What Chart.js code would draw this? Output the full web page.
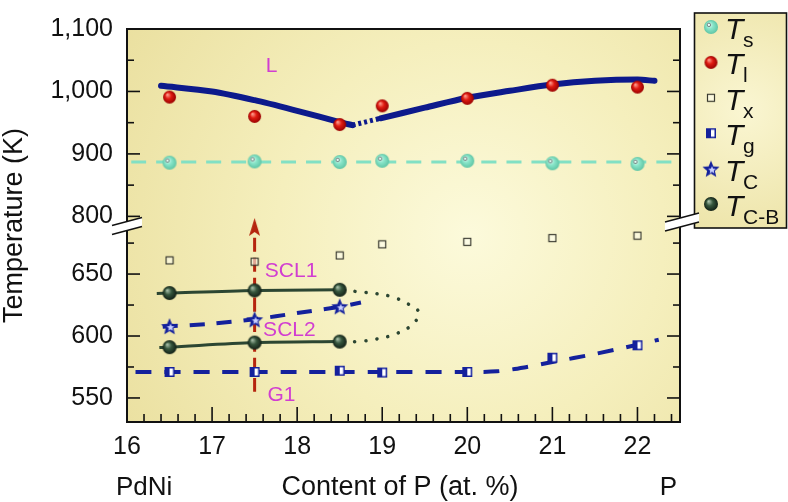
<!DOCTYPE html>
<html>
<head>
<meta charset="utf-8">
<script src="https://cdn.jsdelivr.net/npm/chart.js@4.4.1/dist/chart.umd.min.js"></script>
<style>
  html, body { margin: 0; padding: 0; background: #fff; }
</style>
</head>
<body>
<canvas id="chart" width="788" height="502"></canvas>
<script>
// P content (at. %) of the measured alloys
const comp = [16.5, 17.5, 18.5, 19, 20, 21, 22];
const tS = [886, 888, 887, 889, 889, 885, 884];
const tL = [991, 960, 947, 977, 989, 1010, 1007];
const tX = [661, 660, 665, 674, 676, 679, 681];
const tG = [571, 571, 572, 570.5, 571, 582.5, 592.5];

// only the three alloys with a crossover
const compC = [16.5, 17.5, 18.5];
const tC = [608, 613.5, 624];
const tCBhigh = [634.7, 636.8, 637.3];
const tCBlow = [591, 594.7, 595.5];

// guide curves, [x, T]
const liqLeft = [[16.4, 1009], [17, 1000], [17.5, 986], [18, 969], [18.5, 951], [18.65, 946]];
const liqGap = [[18.65, 946], [18.98, 957]];
const liqRight = [[18.98, 957], [19.5, 974], [20, 990], [20.5, 1001], [21, 1011], [21.5, 1017], [22, 1019], [22.2, 1017]];
const solidusLine = [[16.05, 887], [22.5, 887]];
const glassLine = [[16.1, 571], [17, 571], [18, 571], [19, 571], [20, 571], [20.35, 571.5], [20.7, 575], [21, 579], [21.5, 585.5], [22, 593], [22.25, 597]];
const crossLine = [[16.42, 607.5], [17, 610], [17.5, 613.5], [18, 618.5], [18.5, 623.5], [18.75, 627]];
const cbHighLine = [[16.35, 634.3], [16.5, 634.7], [17.5, 636.8], [18.5, 637.3]];
const cbLowLine = [[16.38, 590.7], [16.5, 591], [17.5, 594.7], [18.5, 595.5]];
const cbNose = [[18.55, 637], [18.75, 635.5], [18.95, 634], [19.12, 631.5], [19.3, 626], [19.43, 619], [19.35, 609], [19.15, 601.5], [18.93, 597.5], [18.72, 595.5], [18.55, 595.5]];
const arrowPath = [[17.5, 555], [17.5, 682]];
const arrowTip = [[17.5, 688]];

// tick labels
const xTicks = [16, 17, 18, 19, 20, 21, 22];
const yTopTicks = [800, 900, 1000, 1100];
const yBotTicks = [550, 600, 650];

const FONT = '"Liberation Sans", Arial, sans-serif';
const navy = '#14219c';

const pts = (xs, ys) => xs.map((x, i) => ({ x: x, y: ys[i] }));
const pairs = arr => arr.map(p => ({ x: p[0], y: p[1] }));

function makeCanvas(w, h) {
  const c = document.createElement('canvas');
  c.width = w; c.height = h;
  return c;
}

function sphere(d, light, mid, dark, ring) {
  const c = makeCanvas(d + 2, d + 2), g = c.getContext('2d');
  const r = d / 2, m = r + 1;
  const gr = g.createRadialGradient(m - r * 0.35, m - r * 0.4, r * 0.05, m, m, r);
  gr.addColorStop(0, light);
  gr.addColorStop(0.45, mid);
  gr.addColorStop(1, dark);
  g.fillStyle = gr;
  g.beginPath(); g.arc(m, m, r, 0, Math.PI * 2); g.fill();
  if (ring) {
    g.strokeStyle = ring; g.lineWidth = 1;
    g.beginPath(); g.arc(m - r * 0.3, m - r * 0.3, r * 0.25, 0, Math.PI * 2); g.stroke();
  }
  return c;
}

function openSquare(s) {
  const c = makeCanvas(s + 2, s + 2), g = c.getContext('2d');
  g.fillStyle = 'rgba(255,255,240,0.6)';
  g.fillRect(1, 1, s, s);
  g.strokeStyle = '#3a3a30'; g.lineWidth = 1.2;
  g.strokeRect(1.5, 1.5, s - 1, s - 1);
  return c;
}

function halfSquare(s) {
  const c = makeCanvas(s + 2, s + 2), g = c.getContext('2d');
  g.fillStyle = '#fff'; g.fillRect(1, 1, s, s);
  g.fillStyle = navy; g.fillRect(1, 1, s / 2, s);
  g.strokeStyle = navy; g.lineWidth = 1.5;
  g.strokeRect(1.75, 1.75, s - 1.5, s - 1.5);
  return c;
}

function starShape(g, cx, cy, ro, ri) {
  g.beginPath();
  for (let i = 0; i < 10; i++) {
    const a = -Math.PI / 2 + i * Math.PI / 5;
    const r = i % 2 ? ri : ro;
    g.lineTo(cx + Math.cos(a) * r, cy + Math.sin(a) * r);
  }
  g.closePath();
}

function star(r) {
  const s = Math.ceil(r * 2 + 4), c = makeCanvas(s, s), g = c.getContext('2d');
  starShape(g, s / 2, s / 2 + 1, r, r * 0.45);
  g.fillStyle = navy; g.fill();
  starShape(g, s / 2 + 1, s / 2 + 1.5, r * 0.45, r * 0.2);
  g.fillStyle = '#c9d0ff'; g.fill();
  return c;
}

function arrowHead(w, h) {
  const c = makeCanvas(w, h), g = c.getContext('2d');
  g.fillStyle = '#b5250e';
  g.beginPath(); g.moveTo(w / 2, 0); g.lineTo(w, h); g.lineTo(w / 2, h - 4); g.lineTo(0, h); g.closePath();
  g.fill();
  return c;
}

const imgS = sphere(14, '#f2fffa', '#8ae6ca', '#5fc5a5', 'rgba(110,120,120,0.9)');
const imgL = sphere(13, '#ff9f90', '#e01c12', '#980000');
const imgX = openSquare(8);
const imgG = halfSquare(10);
const imgC = star(9);
const imgCB = sphere(14, '#a9c0aa', '#36563d', '#122016');
const imgArrow = arrowHead(11, 18);

function marks(data, img, axis) {
  return { data: data, yAxisID: axis, pointStyle: img, pointRadius: 5, showLine: false };
}
function curve(data, axis, color, width, dash, extra) {
  return Object.assign({
    data: data, yAxisID: axis, showLine: true, pointRadius: 0,
    borderColor: color, borderWidth: width, borderDash: dash || [], tension: 0.3, fill: false
  }, extra || {});
}

const decor = {
  id: 'decor',
  beforeDraw(chart) {
    const ctx = chart.ctx, a = chart.chartArea;
    ctx.save();
    let gr = ctx.createRadialGradient(470, 235, 0, 470, 235, 430);
    gr.addColorStop(0, '#fcfadb');
    gr.addColorStop(0.45, '#f5efbd');
    gr.addColorStop(1, '#e9de9c');
    ctx.fillStyle = gr;
    ctx.fillRect(a.left, a.top, a.right - a.left, a.bottom - a.top);
    // legend panel
    gr = ctx.createRadialGradient(745, 110, 0, 745, 110, 150);
    gr.addColorStop(0, '#faf6d2');
    gr.addColorStop(1, '#ebe1a2');
    ctx.fillStyle = gr;
    ctx.fillRect(694.5, 13, 92, 215);
    ctx.restore();
  },
  afterDraw(chart) {
    const ctx = chart.ctx, a = chart.chartArea;
    const xs = chart.scales.x, yt = chart.scales.yTop, yb = chart.scales.yBot;
    ctx.save();
    ctx.strokeStyle = '#111';
    ctx.lineWidth = 1.6;
    const seg = (x1, y1, x2, y2) => { ctx.beginPath(); ctx.moveTo(x1, y1); ctx.lineTo(x2, y2); ctx.stroke(); };
    // x ticks, minor every 0.2
    for (let i = 0; i <= 32; i++) {
      const px = xs.getPixelForValue(16 + i * 0.2);
      seg(px, a.bottom, px, a.bottom - (i % 5 === 0 ? 15 : 8));
    }
    // y ticks on both sides
    const yTick = (scale, v, major) => {
      const py = scale.getPixelForValue(v), len = major ? 13 : 7;
      seg(a.left, py, a.left + len, py);
      seg(a.right, py, a.right - len, py);
    };
    for (let v = 800; v <= 1100; v += 50) yTick(yt, v, v % 100 === 0);
    for (let v = 550; v <= 675; v += 25) yTick(yb, v, v % 50 === 0);
    // frame
    ctx.lineWidth = 2;
    ctx.strokeRect(a.left, a.top, a.right - a.left, a.bottom - a.top);
    ctx.lineWidth = 1.6;
    ctx.strokeRect(694.5, 13, 92, 215);
    // axis breaks
    const brk = (cx, cy, dx, dy, gap) => {
      ctx.fillStyle = '#fff';
      ctx.beginPath();
      ctx.moveTo(cx - dx, cy - gap + dy); ctx.lineTo(cx + dx, cy - gap - dy);
      ctx.lineTo(cx + dx, cy + gap - dy); ctx.lineTo(cx - dx, cy + gap + dy);
      ctx.closePath(); ctx.fill();
      ctx.lineWidth = 1.4;
      seg(cx - dx, cy - gap + dy, cx + dx, cy - gap - dy);
      seg(cx - dx, cy + gap + dy, cx + dx, cy + gap - dy);
    };
    const by = yt.bottom;
    brk(a.left, by, 15, 4, 4.5);
    brk(a.right + 2, by - 4, 17, 4.5, 4.5);

    // axis titles
    ctx.fillStyle = '#111';
    ctx.font = '27px ' + FONT;
    ctx.textBaseline = 'middle';
    ctx.textAlign = 'center';
    ctx.save();
    ctx.translate(15, (a.top + a.bottom) / 2);
    ctx.rotate(-Math.PI / 2);
    ctx.fillText('Temperature (K)', 0, 0);
    ctx.restore();
    ctx.textBaseline = 'alphabetic';
    ctx.fillText('Content of P (at. %)', 400, 495);
    ctx.font = '26px ' + FONT;
    ctx.textAlign = 'left';
    ctx.fillText('PdNi', 116, 495);
    ctx.textAlign = 'right';
    ctx.fillText('P', 677, 495);

    // region labels
    ctx.fillStyle = '#d13ed1';
    ctx.font = '21px ' + FONT;
    ctx.textAlign = 'left';
    ctx.textBaseline = 'middle';
    ctx.fillText('L', xs.getPixelForValue(17.63), yt.getPixelForValue(1041));
    ctx.fillText('SCL1', xs.getPixelForValue(17.62), yb.getPixelForValue(652.3));
    ctx.fillText('SCL2', xs.getPixelForValue(17.6), yb.getPixelForValue(604.3));
    ctx.fillText('G1', xs.getPixelForValue(17.65), yb.getPixelForValue(552.3));

    // legend
    const rows = [[imgS, 's'], [imgL, 'l'], [imgX, 'x'], [imgG, 'g'], [imgC, 'C'], [imgCB, 'C-B']];
    rows.forEach((r, i) => {
      const cy = 27 + i * 35.4;
      ctx.drawImage(r[0], 711 - r[0].width / 2, cy - r[0].height / 2);
      ctx.fillStyle = '#111';
      ctx.textBaseline = 'alphabetic';
      ctx.font = 'italic 30px ' + FONT;
      ctx.fillText('T', 725, cy + 12);
      ctx.font = '21px ' + FONT;
      ctx.fillText(r[1], 743, cy + 20);
    });
    ctx.restore();
  }
};

const yAxis = (min, max, weight, ticksArr) => ({
  type: 'linear', position: 'left', stack: 'temp', stackWeight: weight,
  min: min, max: max,
  afterBuildTicks: s => { s.ticks = ticksArr.map(v => ({ value: v })); },
  afterFit: s => { s.width = 127; },
  grid: { display: false, drawTicks: false },
  border: { display: false },
  ticks: {
    color: '#111', padding: 14, font: { family: FONT, size: 25 },
    callback: v => v.toLocaleString('en-US')
  }
});

new Chart(document.getElementById('chart'), {
  type: 'scatter',
  data: {
    datasets: [
      marks(pts(compC, tCBhigh), imgCB, 'yBot'),
      marks(pts(compC, tCBlow), imgCB, 'yBot'),
      marks(pts(compC, tC), imgC, 'yBot'),
      marks(pts(comp, tG), imgG, 'yBot'),
      marks(pts(comp, tX), imgX, 'yBot'),
      marks(pts(comp, tL), imgL, 'yTop'),
      marks(pts(comp, tS), imgS, 'yTop'),
      Object.assign(marks(pairs(arrowTip), imgArrow, 'yBot'), { clip: false }),
      curve(pairs(arrowPath), 'yBot', '#b5250e', 3, [14, 6], { clip: false }),
      curve(pairs(cbHighLine), 'yBot', '#2c4632', 3),
      curve(pairs(cbLowLine), 'yBot', '#2c4632', 3),
      curve(pairs(cbNose), 'yBot', '#2c4632', 3.5, [0.1, 11], { borderCapStyle: 'round', tension: 0.4 }),
      curve(pairs(crossLine), 'yBot', navy, 4, [15, 12]),
      curve(pairs(glassLine), 'yBot', navy, 4, [16, 13]),
      curve(pairs(solidusLine), 'yTop', '#82e0c4', 3, [15, 10]),
      curve(pairs(liqLeft), 'yTop', '#0d1a8c', 6, [], { borderCapStyle: 'round' }),
      curve(pairs(liqGap), 'yTop', '#0d1a8c', 5, [3, 3], { tension: 0 }),
      curve(pairs(liqRight), 'yTop', '#0d1a8c', 6, [], { borderCapStyle: 'round' })
    ]
  },
  options: {
    responsive: false,
    animation: false,
    layout: { padding: { top: 13, right: 108, left: 0, bottom: 0 } },
    plugins: { legend: { display: false }, tooltip: { enabled: false } },
    scales: {
      x: {
        type: 'linear', min: 16, max: 22.5,
        afterBuildTicks: s => { s.ticks = xTicks.map(v => ({ value: v })); },
        afterFit: s => { s.height = 80; },
        grid: { display: false, drawTicks: false },
        border: { display: false },
        ticks: { color: '#111', padding: 10, maxRotation: 0, autoSkip: false, font: { family: FONT, size: 25 } }
      },
      // the later left axis is stacked on top
      yBot: yAxis(530.6, 688.8, 204, yBotTicks),
      yTop: yAxis(784.6, 1100, 205, yTopTicks)
    }
  },
  plugins: [decor]
});
</script>
</body>
</html>
